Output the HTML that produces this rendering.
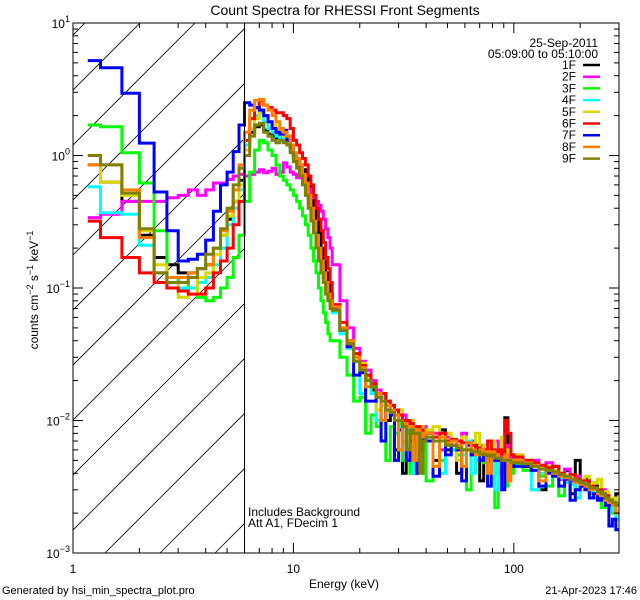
<!DOCTYPE html>
<html><head><meta charset="utf-8"><style>
body{margin:0;background:#fff;}
svg{display:block;font-family:"Liberation Sans",sans-serif;}
</style></head><body>
<svg id="chart" width="640" height="600" viewBox="0 0 640 600">
<rect width="640" height="600" fill="#fff"/>
<text x="345" y="15" text-anchor="middle" font-size="14">Count Spectra for RHESSI Front Segments</text>
<g id="hatch"></g>
<g id="series"></g>
<g id="axes"></g>
<text x="598" y="47" text-anchor="end" font-size="12">25-Sep-2011</text>
<text x="598" y="58" text-anchor="end" font-size="12">05:09:00 to 05:10:00</text>
<g id="legend"></g>
<text x="248" y="516" font-size="12">Includes Background</text>
<text x="248" y="527" font-size="12">Att A1, FDecim 1</text>
<text x="344" y="588" text-anchor="middle" font-size="12">Energy (keV)</text>
<text transform="translate(38,290) rotate(-90)" text-anchor="middle" font-size="12">counts cm<tspan font-size="9" dy="-5">−2</tspan><tspan dy="5"> s</tspan><tspan font-size="9" dy="-5">−1</tspan><tspan dy="5"> keV</tspan><tspan font-size="9" dy="-5">−1</tspan></text>
<text x="2" y="594" font-size="11">Generated by hsi_min_spectra_plot.pro</text>
<text x="637" y="594" text-anchor="end" font-size="11">21-Apr-2023 17:46</text>
</svg>
<script>
// ---- data ----
const segNames = ["1F","2F","3F","4F","5F","6F","7F","8F","9F"];
const segColors = ["#000000","#ff00ff","#00ff00","#00ffff","#d8d800","#ff0000","#0000ff","#ff8000","#808000"];
const xTicks = [1,10,100];
const xTickLabels = ["1","10","100"];
const yTickExp = [1,0,-1,-2,-3];
// low-energy bins 1.17-15 keV (counts)
const low1F = [0.85,0.63,0.45,0.25,0.17,0.15,0.13,0.13,0.14,0.15,0.2,0.25,0.33,0.45,0.65,1.2,1.5,1.65,1.7,1.55,1.45,1.4,1.35,1.35,1.5,1.4,1.15,0.97,0.9,0.85,0.78,0.7,0.6,0.5,0.42,0.33,0.26,0.2,0.16,0.13,0.11,0.09];
const low2F = [0.34,0.36,0.45,0.45,0.45,0.48,0.5,0.55,0.5,0.55,0.62,0.62,0.66,0.7,0.72,0.7,0.72,0.75,0.78,0.74,0.76,0.8,0.72,0.75,0.88,0.82,0.75,0.72,0.68,0.7,0.66,0.6,0.56,0.52,0.48,0.45,0.42,0.38,0.33,0.28,0.24,0.2];
const low3F = [1.7,1.65,1.05,0.62,0.27,0.12,0.11,0.1,0.085,0.08,0.085,0.1,0.12,0.17,0.25,0.45,0.75,1.1,1.3,1.25,1.1,1.0,0.85,0.7,0.65,0.6,0.55,0.5,0.45,0.4,0.35,0.3,0.25,0.2,0.16,0.13,0.1,0.08,0.065,0.055,0.045,0.04];
const low4F = [0.58,0.37,0.36,0.21,0.13,0.11,0.1,0.1,0.11,0.12,0.15,0.2,0.3,0.4,0.55,1.2,1.6,2.0,2.1,1.8,1.6,1.5,1.4,1.3,1.35,1.25,1.1,0.95,0.85,0.75,0.65,0.55,0.45,0.35,0.28,0.22,0.17,0.14,0.12,0.1,0.085,0.075];
const low5F = [0.85,0.63,0.5,0.27,0.15,0.11,0.085,0.09,0.12,0.13,0.18,0.25,0.35,0.45,0.6,1.1,1.6,1.9,2.2,2.0,1.8,1.7,1.55,1.45,1.4,1.3,1.15,1.0,0.9,0.8,0.7,0.6,0.5,0.4,0.3,0.23,0.18,0.15,0.12,0.1,0.085,0.075];
const low6F = [0.32,0.24,0.17,0.13,0.11,0.1,0.095,0.09,0.09,0.1,0.13,0.16,0.2,0.3,0.45,1.3,1.9,2.3,2.6,2.4,2.3,2.2,2.1,2.1,2.0,1.9,1.6,1.3,1.2,1.05,0.95,0.85,0.7,0.6,0.5,0.4,0.33,0.27,0.22,0.17,0.14,0.11];
const low7F = [5.2,4.6,2.95,1.24,0.53,0.27,0.16,0.165,0.18,0.23,0.38,0.6,0.75,1.07,1.7,2.5,2.4,2.3,2.2,2.0,1.8,1.6,1.5,1.45,1.55,1.3,1.15,1.0,0.9,0.8,0.7,0.6,0.5,0.4,0.32,0.25,0.2,0.16,0.13,0.11,0.09,0.08];
const low8F = [0.85,0.85,0.55,0.24,0.13,0.12,0.12,0.13,0.14,0.15,0.2,0.27,0.38,0.55,0.85,1.5,2.2,2.6,2.65,2.4,2.2,2.0,1.8,1.6,1.5,1.4,1.2,1.05,0.95,0.85,0.72,0.62,0.5,0.4,0.32,0.25,0.2,0.16,0.13,0.11,0.09,0.08];
const low9F = [1.0,0.85,0.52,0.28,0.13,0.11,0.11,0.12,0.14,0.18,0.2,0.28,0.4,0.6,0.8,1.0,1.4,1.7,1.75,1.5,1.4,1.3,1.25,1.3,1.25,1.2,1.05,0.9,0.8,0.7,0.6,0.5,0.4,0.32,0.26,0.2,0.16,0.13,0.11,0.09,0.08,0.07];
// high-energy bins 15-300 keV (units of 1e-3 counts)
const hi1F = [70,48,40,28,24,22,17,15,16,10,13,6,12,4,9,8,4,9,8,7.5,8,5,8.5,6,7,4,6,7,5.5,6.5,3.5,6,5,5.8,6,4,5,10.5,5.5,5,5,4.5,5,3,4.3,4.5,3.6,4.2,2.8,5,3.4,3.6,3,3.2,2.6,2.9,2.7,2.3,2.4,2.8];
const hi2F = [150,80,50,35,28,24,20,17,14,14,12,10,12,11,9,10,8,9,7,9,7,8,6,7.5,6.5,7,8,6,7,5,6.5,6,5.5,6,7,5,5.5,6.5,5,5.5,5.5,4.6,5,4.5,4.8,4,3.6,4.3,3.5,3.8,3.2,3.5,3.2,3,2.8,3,2.6,2.5,2.3,2.4];
const hi3F = [40,30,22,14,15,8,11,9,10,5,9,8,9.5,5,8,4,8,7,6.5,8,3.5,7,5,6.5,6,5.5,6,3,5.5,5,6,4.8,5.5,5,2.2,4.5,5,3.2,5,4,4.6,4.2,4.5,3.8,3.2,4,2.7,3.8,3.3,3,3.5,3.2,2.8,2.6,3,2.2,2.4,2.2,2,2.3];
const hi4F = [65,45,35,28,16,20,16,10,15,12,11,5,9,10,8.5,9,4,7.5,8,7,7.5,7,4,6.8,6,6.5,5.5,7,4,5.8,5.5,5.2,6,5,3,4.8,5.2,5,4.8,5,4.8,4.6,3,4,4.2,3.8,3.7,3.4,3.3,2.6,3.2,3,2.9,3,2.7,2.5,2.4,2.2,2.1,1.8];
const hi5F = [70,50,40,30,27,21,19,12,13,14,12,11,12,7,9,10,9,5,9,8,8.5,9,7,8,7,5,7.5,6.5,6,8,6,6.5,6,7,5.5,6,7.5,5.5,6,5.5,5.5,5,4.8,4.5,4.5,4.2,4,3.8,3.8,3.6,3.4,3.8,3.2,3.4,3.6,2.8,2.9,2.5,2.6,2.4];
const hi6F = [75,55,40,32,26,22,19,15,16,14,13,12,11,10,10,9.5,9,9,8.5,8,8,7.5,8,7,7.2,7,6.8,6.5,6.5,6.2,6,6,7,6,5.8,6,5.6,10,8,5.5,5.3,5,4.8,4.6,4.4,4.5,4,3.8,3.9,3.6,3.5,3.5,3.2,3.1,3,2.8,2.7,2.5,2.4,2.3];
const hi7F = [70,48,36,22,23,14,14,16,7,12,11,5,8.5,9,5,7,8,4,6,7.5,7,3.8,7,5.5,6.5,6,3.5,6.5,5.5,6,5,5.5,3.2,5.5,5,5,3,5,4.5,4.8,4.5,4.6,4.2,3.2,4,3.8,3.2,3.6,2.5,3,3.2,3,2.6,2.8,2.5,2.6,2.3,1.6,1.8,1.5];
const hi8F = [72,50,40,30,25,18,18,16,10,13,12,11,6,9.5,9,9,5,8.5,8,7.5,8,4.5,7.5,6.8,7,6.5,4.5,6.8,6,5.5,6,5.8,4,5.8,5.5,5.2,5,5.5,3.5,5,5,4.8,4.6,3.5,4.2,4,3.8,3.7,3.6,3.4,3.3,3.2,3,3,2.8,2.7,2.5,2.4,2.3,2];
const hi9F = [68,48,38,28,24,20,18,15,14,12,11.5,10,10,9,6,8.5,8,8,4,7,7.5,7,7,6.5,6.5,6.2,6,6,5.8,5.8,5.6,5.5,5.4,5.5,5.2,5.2,5,5,5,4.8,4.8,4.7,4.5,4.3,4.2,4.1,3.9,3.8,3.6,3.5,3.4,3.3,3.1,3.1,2.9,2.8,2.6,2.5,2.4,2.3];
const lowSeries = [low1F,low2F,low3F,low4F,low5F,low6F,low7F,low8F,low9F];
const hiSeries = [hi1F,hi2F,hi3F,hi4F,hi5F,hi6F,hi7F,hi8F,hi9F];

// ---- geometry ----
const L=73,R=619,T=23,B=553, XMAX=300, YMIN=-3, YMAX=1;
const X=e=>L+(R-L)*Math.log10(e)/Math.log10(XMAX);
const Y=v=>B-(B-T)*(Math.log10(v)-YMIN)/(YMAX-YMIN);
const NS="http://www.w3.org/2000/svg";
function mk(tag,attrs,parent){const el=document.createElementNS(NS,tag);for(const k in attrs)el.setAttribute(k,attrs[k]);parent.appendChild(el);return el;}

// energy bin edges
const edges=[7/6];
for(let k=4;k<=45;k++)edges.push(k/3);
for(let e=16.25;e<=40.001;e+=1.25)edges.push(e);
for(let e=43;e<=100.001;e+=3)edges.push(e);
for(let e=110;e<=300.001;e+=10)edges.push(e);

const svg=document.getElementById('chart');
const defs=mk('defs',{},svg);
const cp=mk('clipPath',{id:'plotclip'},defs);
mk('rect',{x:L,y:T,width:R-L,height:B-T},cp);
const cp2=mk('clipPath',{id:'hatchclip'},defs);
mk('rect',{x:L,y:T,width:X(6)-L,height:B-T},cp2);

// hatching
const hg=document.getElementById('hatch');
hg.setAttribute('clip-path','url(#hatchclip)');
for(let x0=-600;x0<300;x0+=55){
  const ln=mk('line',{x1:x0+45,y1:B,x2:x0+45+560,y2:B-560,stroke:'#000','stroke-width':0.8},hg);
  
  
}

// series
const sg=document.getElementById('series');
sg.setAttribute('clip-path','url(#plotclip)');
segNames.forEach((nm,si)=>{
  const vals=lowSeries[si].concat(hiSeries[si].map(v=>v*1e-3));
  let d='';
  vals.forEach((v,i)=>{
    const x1=X(edges[i]).toFixed(1),x2=X(edges[i+1]).toFixed(1),y=Y(v).toFixed(1);
    d+=(i===0?'M':'L')+x1+','+y+'L'+x2+','+y;
  });
  const p=mk('path',{d:d,fill:'none',stroke:segColors[si],'stroke-width':3,'stroke-linejoin':'miter'},sg);
  
  
});

// axes
const ag=document.getElementById('axes');
const frame=mk('rect',{x:L,y:T,width:R-L,height:B-T,fill:'none',stroke:'#000','stroke-width':1},ag);


const vl=mk('line',{x1:X(6),y1:T,x2:X(6),y2:B,stroke:'#000','stroke-width':1},ag);


for(let dec=1;dec<=100;dec*=10){
  for(let m=1;m<=9;m++){
    const e=dec*m; if(e>XMAX)break;
    const len=m===1?10:5, x=X(e);
    const t1=mk('line',{x1:x,y1:B,x2:x,y2:B-len,stroke:'#000'},ag);
    
    
    const t2=mk('line',{x1:x,y1:T,x2:x,y2:T+len,stroke:'#000'},ag);
    
    
  }
}
xTicks.forEach((e,i)=>{
  const t=mk('text',{x:X(e),y:B+20,'text-anchor':'middle','font-size':12},ag);
  t.textContent=xTickLabels[i];
  
  
});
for(let p=-3;p<1;p++){
  for(let m=1;m<=9;m++){
    const v=Math.pow(10,p)*m, y=Y(v), len=m===1?10:5;
    const t1=mk('line',{x1:L,y1:y,x2:L+len,y2:y,stroke:'#000'},ag);
    
    
    const t2=mk('line',{x1:R,y1:y,x2:R-len,y2:y,stroke:'#000'},ag);
    
    
  }
}
yTickExp.forEach(p=>{
  const y=Y(Math.pow(10,p));
  const t=mk('text',{x:L-3,y:y+5,'text-anchor':'end','font-size':12},ag);
  t.innerHTML='10<tspan font-size="9" dy="-6">'+(p<0?'−'+(-p):p)+'</tspan>';
  
  
});

// legend
const lg=document.getElementById('legend');
segNames.forEach((nm,i)=>{
  const y=65+i*11.7;
  const t=mk('text',{x:576,y:y+4,'text-anchor':'end','font-size':12},lg);
  t.textContent=nm;
  
  
  const l=mk('line',{x1:583,y1:y,x2:600,y2:y,stroke:segColors[i],'stroke-width':2.5},lg);
  
  
});
</script>
</body></html>
